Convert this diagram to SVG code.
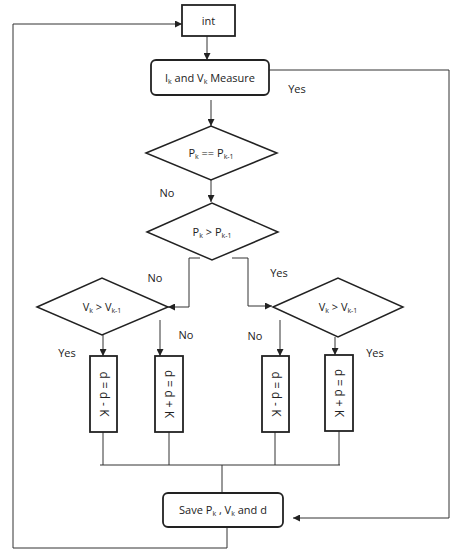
<svg xmlns="http://www.w3.org/2000/svg" width="451" height="550" viewBox="0 0 451 550">
<defs>
<marker id="ah" viewBox="0 0 10 10" refX="10" refY="5" markerWidth="7" markerHeight="7" orient="auto-start-reverse" markerUnits="userSpaceOnUse">
<path d="M0,0 L10,5 L0,10 z" fill="#222"/>
</marker>
<style>
.box{fill:#fff;stroke:#222;stroke-width:1.8}
.dia{fill:#fff;stroke:#222;stroke-width:1.5}
.ln{fill:none;stroke:#333;stroke-width:1}
.ar{fill:none;stroke:#333;stroke-width:1;marker-end:url(#ah)}
text{font-family:"Open Sans","Liberation Sans",sans-serif;fill:#222;font-size:11px}
.lbl{font-size:11px}
.c{text-anchor:middle}
.rot{font-size:12px}
</style>
</defs>
<rect width="451" height="550" fill="#fff"/>
<g id="connectors">
<path class="ar" d="M227,527 V548 H13 V24 H182"/>
<path class="ar" d="M207,36 V60"/>
<path class="ar" d="M269,70 H449 V518 H293"/>
<path class="ar" d="M211,100 V126"/>
<path class="ar" d="M211,180 V202"/>
<path class="ar" d="M200,258 H189 V307 H168"/>
<path class="ar" d="M232,258 H248 V306 H272"/>
<path class="ar" d="M103,335 V356"/>
<path class="ar" d="M160,320 V356"/>
<path class="ar" d="M280,320 V356"/>
<path class="ar" d="M335,337 V355"/>
<path class="ln" d="M103,432 V465 M169,432 V465 M275,432 V465 M339,431 V465 M100,465 H340 M222,465 V493"/>
</g>
<g id="labels">
<text class="lbl c" x="297" y="93">Yes</text>
<text class="lbl c" x="167" y="197">No</text>
<text class="lbl c" x="155" y="282">No</text>
<text class="lbl c" x="279" y="277">Yes</text>
<text class="lbl c" x="67" y="357">Yes</text>
<text class="lbl c" x="186" y="339">No</text>
<text class="lbl c" x="255" y="340">No</text>
<text class="lbl c" x="375" y="357">Yes</text>
</g>
<g id="n-int">
<rect class="box" x="182" y="5" width="53" height="31"/>
<text class="c" x="208.5" y="24.5">int</text>
</g>
<g id="n-measure">
<rect class="box" x="151" y="60" width="118" height="35" rx="5"/>
<text class="c" x="210" y="81.5">I<tspan font-size="7" dy="2">k</tspan><tspan dy="-2"> and V</tspan><tspan font-size="7" dy="2">k</tspan><tspan dy="-2"> Measure</tspan></text>
</g>
<g id="n-dia1">
<polygon class="dia" points="146,153 211,126 277,153 211,180"/>
<text class="c" x="211" y="157">P<tspan font-size="7" dy="2">k</tspan><tspan dy="-2"> == P</tspan><tspan font-size="7" dy="2">k-1</tspan></text>
</g>
<g id="n-dia2">
<polygon class="dia" points="147,232 212,203 278,232 212,260"/>
<text class="c" x="212" y="236">P<tspan font-size="7" dy="2">k</tspan><tspan dy="-2"> &gt; P</tspan><tspan font-size="7" dy="2">k-1</tspan></text>
</g>
<g id="n-dia3">
<polygon class="dia" points="37,307 102,278 168,307 102,335"/>
<text class="c" x="102" y="311">V<tspan font-size="7" dy="2">k</tspan><tspan dy="-2"> &gt; V</tspan><tspan font-size="7" dy="2">k-1</tspan></text>
</g>
<g id="n-dia4">
<polygon class="dia" points="273,307 338,278 403,307 338,337"/>
<text class="c" x="338" y="311">V<tspan font-size="7" dy="2">k</tspan><tspan dy="-2"> &gt; V</tspan><tspan font-size="7" dy="2">k-1</tspan></text>
</g>
<g id="n-b1">
<rect class="box" x="90" y="356" width="27" height="76"/>
<text class="c rot" transform="translate(103.5,394) rotate(90)" y="4">d = d - K</text>
</g>
<g id="n-b2">
<rect class="box" x="155" y="356" width="28" height="76"/>
<text class="c rot" transform="translate(169,394) rotate(90)" y="4">d = d + K</text>
</g>
<g id="n-b3">
<rect class="box" x="262" y="356" width="27" height="76"/>
<text class="c rot" transform="translate(275.5,394) rotate(90)" y="4">d = d - K</text>
</g>
<g id="n-b4">
<rect class="box" x="325" y="355" width="28" height="76"/>
<text class="c rot" transform="translate(339,393) rotate(90)" y="4">d = d + K</text>
</g>
<g id="n-save">
<rect class="box" x="163" y="493" width="120" height="34" rx="5"/>
<text class="c" x="223" y="514">Save P<tspan font-size="7" dy="2">k</tspan><tspan dy="-2"> , V</tspan><tspan font-size="7" dy="2">k</tspan><tspan dy="-2"> and d</tspan></text>
</g>
</svg>
